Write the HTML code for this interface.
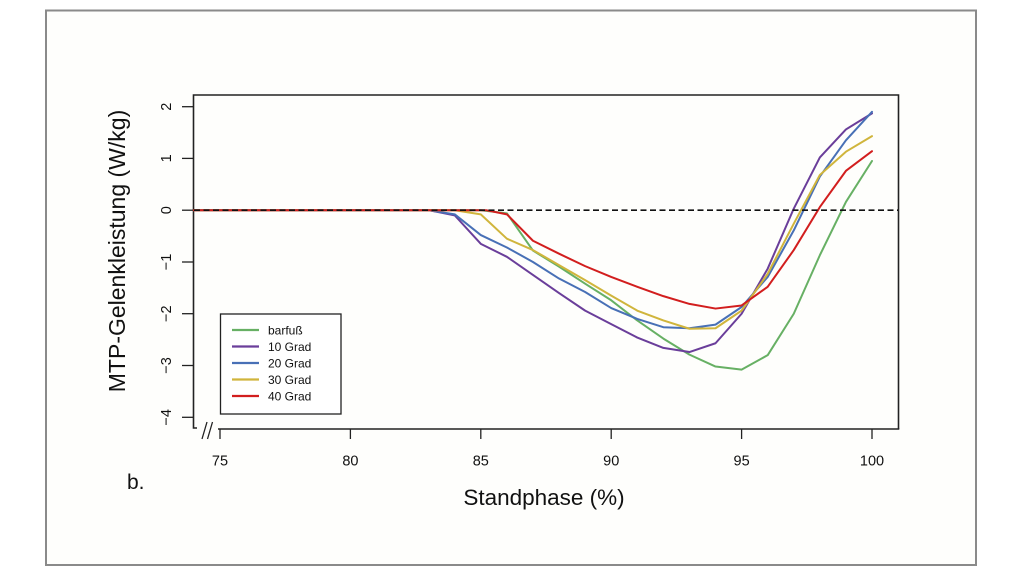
<!DOCTYPE html>
<html>
<head>
<meta charset="utf-8">
<style>
html,body{margin:0;padding:0;background:#ffffff;}
svg{display:block;}
text{font-family:"Liberation Sans",sans-serif;fill:#111;}
</style>
</head>
<body>
<svg width="1024" height="576" viewBox="0 0 1024 576" xmlns="http://www.w3.org/2000/svg">
  <rect x="0" y="0" width="1024" height="576" fill="#ffffff"/>
  <rect x="46" y="10.5" width="930" height="554.5" fill="#fefefc" stroke="#8a8a8a" stroke-width="2"/>

  <!-- plot box -->
  <polyline points="197,428 193.5,428 193.5,95 898.5,95 898.5,429" fill="none" stroke="#222" stroke-width="1.6"/>
  <line x1="218" y1="429" x2="899.3" y2="429" stroke="#222" stroke-width="1.6"/>
  <!-- axis break -->
  <line x1="202" y1="439" x2="207" y2="422" stroke="#222" stroke-width="1.3"/>
  <line x1="207.5" y1="439" x2="212.5" y2="422" stroke="#222" stroke-width="1.3"/>

  <!-- y ticks -->
  <g stroke="#222" stroke-width="1.3">
    <line x1="182" y1="106.7" x2="193.5" y2="106.7"/>
    <line x1="182" y1="158.4" x2="193.5" y2="158.4"/>
    <line x1="182" y1="210.2" x2="193.5" y2="210.2"/>
    <line x1="182" y1="262" x2="193.5" y2="262"/>
    <line x1="182" y1="313.7" x2="193.5" y2="313.7"/>
    <line x1="182" y1="365.5" x2="193.5" y2="365.5"/>
    <line x1="182" y1="417.3" x2="193.5" y2="417.3"/>
  </g>
  <g font-size="14.5" text-anchor="middle">
    <text transform="translate(171,106.7) rotate(-90)">2</text>
    <text transform="translate(171,158.4) rotate(-90)">1</text>
    <text transform="translate(171,210.2) rotate(-90)">0</text>
    <text transform="translate(171,262) rotate(-90)">−1</text>
    <text transform="translate(171,313.7) rotate(-90)">−2</text>
    <text transform="translate(171,365.5) rotate(-90)">−3</text>
    <text transform="translate(171,417.3) rotate(-90)">−4</text>
  </g>

  <!-- x ticks -->
  <g stroke="#222" stroke-width="1.3">
    <line x1="220" y1="429" x2="220" y2="439"/>
    <line x1="350.4" y1="429" x2="350.4" y2="439"/>
    <line x1="480.8" y1="429" x2="480.8" y2="439"/>
    <line x1="611.2" y1="429" x2="611.2" y2="439"/>
    <line x1="741.6" y1="429" x2="741.6" y2="439"/>
    <line x1="872" y1="429" x2="872" y2="439"/>
  </g>
  <g font-size="14.5" text-anchor="middle">
    <text x="220" y="465.5">75</text>
    <text x="350.4" y="465.5">80</text>
    <text x="480.8" y="465.5">85</text>
    <text x="611.2" y="465.5">90</text>
    <text x="741.6" y="465.5">95</text>
    <text x="872" y="465.5">100</text>
  </g>

  <!-- axis titles -->
  <text x="544" y="505" font-size="22.5" text-anchor="middle">Standphase (%)</text>
  <text transform="translate(125,251) rotate(-90)" font-size="23" text-anchor="middle">MTP-Gelenkleistung (W/kg)</text>
  <text x="127" y="489" font-size="21">b.</text>

  <!-- series -->
  <g transform="translate(220,210.2) scale(26.08,-51.77)" fill="none" stroke-width="2" stroke-linejoin="round" stroke-linecap="round">
    <polyline vector-effect="non-scaling-stroke" stroke="#67b064" points="-1,0 10,0 11,-0.06 12,-0.78 13,-1.09 14,-1.42 15,-1.74 16,-2.13 17,-2.48 18,-2.79 19,-3.02 20,-3.08 21,-2.8 22,-2.0 23,-0.87 24,0.16 25,0.95"/>
    <polyline vector-effect="non-scaling-stroke" stroke="#6a3e9a" points="-1,0 8,0 9,-0.1 10,-0.65 11,-0.9 12,-1.25 13,-1.6 14,-1.94 15,-2.2 16,-2.46 17,-2.66 18,-2.74 19,-2.57 20,-2.0 21,-1.13 22,0.03 23,1.02 24,1.56 25,1.87"/>
    <polyline vector-effect="non-scaling-stroke" stroke="#4870b6" points="-1,0 8,0 9,-0.08 10,-0.48 11,-0.72 12,-1.0 13,-1.32 14,-1.58 15,-1.89 16,-2.1 17,-2.26 18,-2.28 19,-2.21 20,-1.87 21,-1.29 22,-0.39 23,0.65 24,1.35 25,1.9"/>
    <polyline vector-effect="non-scaling-stroke" stroke="#d0b53c" points="-1,0 9,0 10,-0.08 11,-0.55 12,-0.77 13,-1.06 14,-1.35 15,-1.65 16,-1.94 17,-2.13 18,-2.29 19,-2.28 20,-1.94 21,-1.23 22,-0.26 23,0.68 24,1.13 25,1.43"/>
    <polyline vector-effect="non-scaling-stroke" stroke="#d21e1e" points="-1,0 10.2,0 11,-0.08 12,-0.59 13,-0.84 14,-1.08 15,-1.29 16,-1.48 17,-1.66 18,-1.81 19,-1.9 20,-1.84 21,-1.48 22,-0.77 23,0.06 24,0.76 25,1.14"/>
  </g>

  <!-- zero dashed line -->
  <line x1="194" y1="210.2" x2="898" y2="210.2" stroke="#111" stroke-width="1.6" stroke-dasharray="6,3.5"/>

  <!-- legend -->
  <rect x="220.5" y="314" width="120.5" height="100" fill="#ffffff" stroke="#222" stroke-width="1.3"/>
  <g stroke-width="2.2">
    <line x1="232" y1="330" x2="259" y2="330" stroke="#67b064"/>
    <line x1="232" y1="346.5" x2="259" y2="346.5" stroke="#6a3e9a"/>
    <line x1="232" y1="363" x2="259" y2="363" stroke="#4870b6"/>
    <line x1="232" y1="379.5" x2="259" y2="379.5" stroke="#d0b53c"/>
    <line x1="232" y1="396" x2="259" y2="396" stroke="#d21e1e"/>
  </g>
  <g font-size="12">
    <text x="268" y="334.5">barfuß</text>
    <text x="268" y="351">10 Grad</text>
    <text x="268" y="367.5">20 Grad</text>
    <text x="268" y="384">30 Grad</text>
    <text x="268" y="400.5">40 Grad</text>
  </g>
</svg>
</body>
</html>
